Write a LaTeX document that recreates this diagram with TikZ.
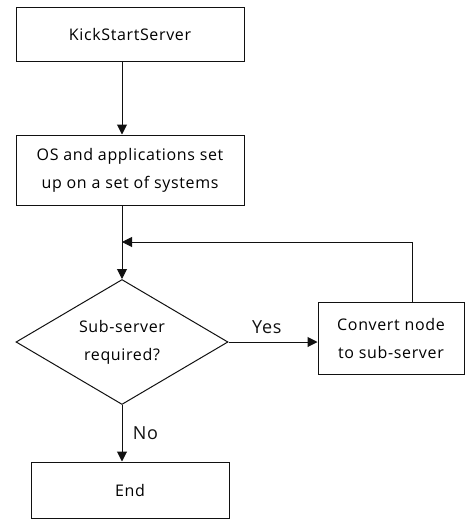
\documentclass[tikz,border=0pt]{standalone}
\usepackage{fontspec}
\setmainfont{Open Sans}[LetterSpace=4]
\usepackage{tikz}
\usetikzlibrary{arrows.meta,shapes.geometric}
\definecolor{blackmain}{HTML}{111111}
\tikzset{every node/.append style={font=\fontsize{16}{28}\selectfont},
  procbox/.style={draw=blackmain,line width=1pt,rectangle,inner sep=0pt,align=center},
  decbox/.style={draw=blackmain,line width=1pt,diamond,aspect=1.7,inner sep=0pt,
    minimum width=212pt,minimum height=125pt,align=center},
  flow/.style={->,blackmain,line width=1pt},
  flowlabel/.style={font=\fontsize{18}{20}\selectfont}}

\begin{document}
\begin{tikzpicture}[x=1pt,y=-1pt,>={Triangle[length=10pt,width=10pt]}]
  \useasboundingbox (0,0) rectangle (465,519);
  \node[procbox,minimum width=228pt,minimum height=54pt] (kick) at (130,35)
    {KickStartServer};
  \node[procbox,minimum width=228pt,minimum height=70pt] (setup) at (130,170)
    {OS and applications set\\up on a set of systems};
  \node[decbox] (subq) at (122,342) {Sub-server\\required?};
  \node[procbox,minimum width=146pt,minimum height=72pt] (conv) at (391,338)
    {Convert node\\to sub-server};
  \node[procbox,minimum width=198pt,minimum height=56pt] (fin) at (130,490)
    {End};
  \coordinate (loop) at (122,242);
  \draw[flow] (subq.north |- kick.south)--(subq.north |- setup.north);
  \draw[flow] (subq.north |- setup.south)--(subq.north);
  \draw[flow] ([xshift=21pt]conv.north)|-(loop);
  \draw[flow] (subq.east)--(conv.west |- subq.east)
    node[flowlabel,pos=0.43,above=4pt] {Yes};
  \draw[flow] (subq.south)--(subq.south |- fin.north)
    node[flowlabel,midway,right=7pt] {No};
\end{tikzpicture}
\end{document}
